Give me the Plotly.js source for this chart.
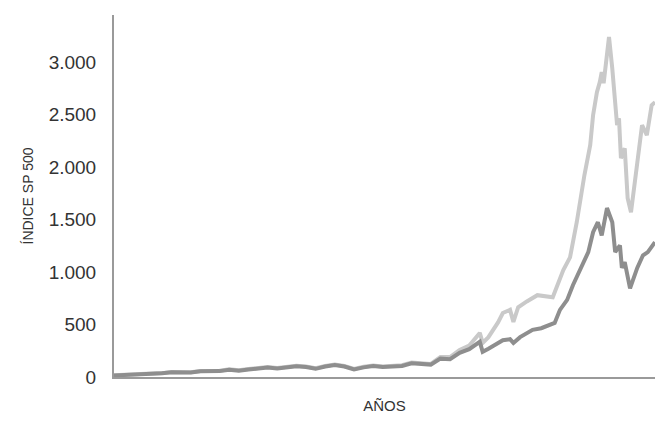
<!DOCTYPE html>
<html>
<head>
<meta charset="utf-8">
<script src="https://cdn.plot.ly/plotly-3.0.1.min.js"></script>
<style>html,body{margin:0;padding:0;background:#fff;}#chart{width:655px;height:421px;}</style>
</head>
<body>
<div id="chart"></div>
<script>
// Dark series (lower line)
const darkYears = [1949,1950,1951,1952,1953,1954,1955,1956,1957,1958,1959,1960,1961,1962,1963,1964,1965,1966,1967,1968,1969,1970,1971,1972,1973,1974,1975,1976,1977,1978,1979,1980,1981,1982,1983,1984,1985,1986,1987.1,1987.4,1988,1989,1989.5,1990.25,1990.6,1991.3,1992,1992.6,1993.5,1994.4,1994.9,1995.45,1996.2,1996.8,1997.85,1998.4,1998.9,1999.4,1999.8,2000.35,2000.9,2001.2,2001.7,2001.9,2002.2,2002.75,2003.5,2004.1,2004.6,2005.35];
const darkValues = [15,18,22,25,25,35,45,47,42,55,58,56,70,60,72,84,90,82,95,103,95,78,100,115,100,72,92,105,95,96,105,130,125,118,175,170,230,265,335,240,270,320,350,360,325,380,420,450,465,495,515,640,735,875,1095,1190,1380,1475,1350,1610,1475,1190,1255,1040,1095,845,1040,1160,1190,1285];

// Light series (upper line)
const lightYears = [1949,1950,1951,1952,1953,1954,1955,1956,1957,1958,1959,1960,1961,1962,1963,1964,1965,1966,1967,1968,1969,1970,1971,1972,1973,1974,1975,1976,1977,1978,1979,1980,1981,1982,1983,1984,1985,1986,1987.1,1987.4,1988,1989,1989.5,1990.25,1990.6,1991.1,1992,1993.1,1994.7,1995.25,1995.8,1996.5,1997.2,1998.0,1998.6,1998.9,1999.3,1999.6,1999.8,2000.0,2000.35,2000.56,2000.9,2001.2,2001.4,2001.6,2001.8,2002.2,2002.5,2002.85,2003.5,2004.0,2004.5,2005.0,2005.35];
const lightValues = [17,20,24,27,27,37,48,50,45,58,62,60,74,64,76,88,95,87,100,108,100,83,105,120,105,77,97,110,100,102,112,137,132,125,190,190,257,300,420,325,380,520,610,640,525,665,720,780,760,895,1020,1140,1475,1925,2210,2495,2715,2810,2905,2800,3095,3240,2940,2655,2400,2465,2085,2180,1705,1570,2020,2400,2305,2590,2620];

const yTicks = [0,500,1000,1500,2000,2500,3000];

const traces = [
  {x: lightYears, y: lightValues, type: 'scatter', mode: 'lines',
   line: {color: '#c9c9c9', width: 4}, hoverinfo: 'skip', showlegend: false},
  {x: darkYears, y: darkValues, type: 'scatter', mode: 'lines',
   line: {color: '#8e8e8e', width: 4}, hoverinfo: 'skip', showlegend: false}
];

const layout = {
  width: 655, height: 421,
  margin: {l: 114, r: 0, t: 15, b: 44, pad: 0},
  paper_bgcolor: '#fff', plot_bgcolor: '#fff',
  separators: ',.',
  font: {family: 'Liberation Sans, Arial, sans-serif', color: '#333'},
  xaxis: {
    range: [1949, 2005.35],
    showgrid: false, zeroline: false, showticklabels: false, ticks: '',
    showline: true, linecolor: '#9a9a9a', linewidth: 2,
    title: {text: 'AÑOS', font: {size: 15, color: '#333'}, standoff: 22}
  },
  yaxis: {
    range: [0, 3450],
    tickvals: yTicks, tickformat: ',d', separatethousands: true,
    showgrid: false, zeroline: false, ticks: '',
    showline: true, linecolor: '#9a9a9a', linewidth: 2,
    tickfont: {size: 19, color: '#333'},
    ticklabelstandoff: 12,
    title: {text: 'ÍNDICE SP 500', font: {size: 14, color: '#333'}, standoff: 12}
  }
};

Plotly.newPlot('chart', traces, layout, {staticPlot: true, displayModeBar: false});
</script>
</body>
</html>
